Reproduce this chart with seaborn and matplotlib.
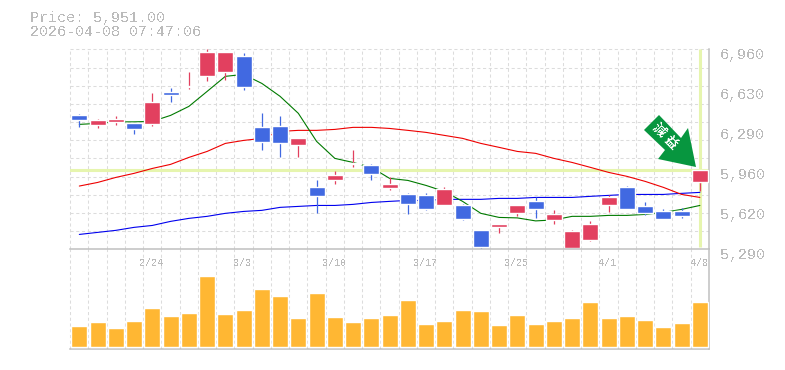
"""Candlestick chart with moving averages and a volume panel."""

import matplotlib
matplotlib.use("Agg")
import matplotlib.pyplot as plt
import numpy as np
import pandas as pd
import seaborn as sns
from matplotlib.patches import Polygon
from matplotlib.transforms import IdentityTransform, ScaledTranslation

W, H = 785, 370

dates = ["2/17", "2/18", "2/19", "2/20", "2/24", "2/25", "2/26", "2/27", "3/2", "3/3",
         "3/4", "3/5", "3/6", "3/9", "3/10", "3/11", "3/12", "3/13", "3/16", "3/17",
         "3/18", "3/19", "3/23", "3/24", "3/25", "3/26", "3/27", "3/30", "3/31", "4/1",
         "4/2", "4/3", "4/6", "4/7", "4/8"]
shown_dates = ["2/24", "3/3", "3/10", "3/17", "3/25", "4/1", "4/8"]

opens = [6409, 6325, 6350, 6342, 6334, 6601, 6643, 6735, 6768, 6902,
         6309, 6317, 6158, 5808, 5866, 6000, 5991, 5799, 5749, 5741,
         5657, 5657, 5449, 5474, 5591, 5691, 5532, 5298, 5365, 5657,
         5808, 5649, 5607, 5607, 5849]
closes = [6367, 6367, 6376, 6292, 6517, 6576, 6651, 6935, 6935, 6643,
          6183, 6175, 6217, 5733, 5908, 6008, 5916, 5833, 5666, 5624,
          5791, 5541, 5307, 5499, 5657, 5624, 5582, 5440, 5499, 5724,
          5624, 5591, 5541, 5566, 5951]
highs = [6422, 6376, 6401, 6342, 6593, 6634, 6768, 6960, 6935, 6927,
         6426, 6401, 6217, 5866, 5941, 6117, 6000, 5891, 5758, 5758,
         5808, 5666, 5449, 5499, 5657, 5724, 5616, 5449, 5524, 5741,
         5816, 5682, 5624, 5632, 5951]
lows = [6312, 6300, 6325, 6250, 6317, 6517, 6626, 6693, 6701, 6618,
        6117, 6058, 6058, 5591, 5833, 5975, 5866, 5783, 5582, 5616,
        5657, 5532, 5290, 5424, 5566, 5549, 5499, 5282, 5357, 5599,
        5624, 5574, 5541, 5549, 5774]

ma_short = [6334, 6342, 6355, 6355, 6359, 6409, 6484, 6609, 6735, 6751,
            6676, 6568, 6426, 6192, 6050, 6016, 5975, 5883, 5866, 5824,
            5774, 5691, 5591, 5557, 5553, 5528, 5536, 5566, 5566, 5574,
            5574, 5582, 5599, 5624, 5657]
ma_mid = [5819, 5849, 5891, 5925, 5966, 6000, 6058, 6108, 6175, 6200,
          6217, 6275, 6284, 6284, 6292, 6309, 6309, 6300, 6284, 6267,
          6242, 6217, 6175, 6142, 6108, 6092, 6050, 6016, 5975, 5933,
          5900, 5858, 5808, 5749, 5724]
ma_long = [5415, 5432, 5449, 5474, 5490, 5524, 5549, 5566, 5591, 5607,
           5616, 5641, 5649, 5657, 5657, 5666, 5682, 5691, 5699, 5699,
           5708, 5708, 5708, 5716, 5716, 5724, 5724, 5724, 5733, 5741,
           5749, 5749, 5749, 5758, 5766]

volumes = [21, 25, 19, 26, 39, 31, 34, 71, 33, 37, 58, 51, 29, 54, 30, 25, 29, 32,
           47, 23, 26, 37, 36, 22, 32, 23, 26, 29, 45, 29, 31, 27, 20, 24, 45]

price_ticks = [5290, 5624, 5958, 6292, 6626, 6960]
price_labels = ["5,290", "5,620", "5,960", "6,290", "6,630", "6,960"]
last_price = 5951

RED = "#E2405F"
BLUE = "#4169E1"
ORANGE = "#FFB733"
GRID = "#DCDCDC"
FRAME = "#C0C0C0"
TEXT = "#BBBBBB"
MARK = "#E6F5AE"
ARROW = "#07963F"
DASH = (0, (3, 2.5))

sns.set_theme(style="white")
plt.rcParams["font.family"] = ["Liberation Mono", "Noto Sans CJK JP", "DejaVu Sans"]
plt.rcParams["text.antialiased"] = False

df = pd.DataFrame({"date": dates, "open": opens, "close": closes, "high": highs, "low": lows,
                   "ma_short": ma_short, "ma_mid": ma_mid, "ma_long": ma_long, "volume": volumes})
df["pos"] = np.arange(len(df))

fig = plt.figure(figsize=(W / 100, H / 100), dpi=100, facecolor="white")
ax = fig.add_axes([70.2 / W, (H - 249.4) / H, 638.8 / W, 200 / H])
ax_vol = fig.add_axes([70.2 / W, (H - 349.4) / H, 638.8 / W, 100 / H])

# volume panel
sns.barplot(data=df, x="pos", y="volume", color=ORANGE, saturation=1, width=0.88,
            native_scale=True, ax=ax_vol, zorder=3)
ax_vol.set_ylim(-2, 98)
ax_vol.set_yticks([])

for a in (ax, ax_vol):
    a.set_xlim(-0.5, len(df) - 0.5)
    a.set_xlabel("")
    a.set_ylabel("")
    a.set_xticks([])
    a.set_xticks(df["pos"].to_numpy()[:-1] + 0.5, minor=True)
    a.grid(True, axis="x", which="minor", color=GRID, linestyle=DASH, linewidth=0.75)
    a.tick_params(which="both", length=0, labelbottom=False)
    a.set_axisbelow(True)
    for spine in a.spines.values():
        spine.set_visible(False)

# horizontal price grid, 11 even steps over the price range
ax.set_ylim(price_ticks[0], price_ticks[-1])
ax.set_yticks(np.linspace(price_ticks[0], price_ticks[-1], 12), minor=True)
ax.grid(True, axis="y", which="minor", color=GRID, linestyle=DASH, linewidth=0.75)
ax.axvline(-0.5, color=GRID, linestyle=DASH, linewidth=0.75, clip_on=False, zorder=1)
ax_vol.axvline(-0.5, color=GRID, linestyle=DASH, linewidth=0.75, clip_on=False, zorder=1)
ax.axhline(price_ticks[-1], color=GRID, linestyle=DASH, linewidth=0.75, clip_on=False, zorder=1)

# frame lines
for a, names in ((ax, ["right"]), (ax_vol, ["top", "bottom", "right"])):
    for name in names:
        a.spines[name].set_visible(True)
        a.spines[name].set_color(FRAME)
        a.spines[name].set_linewidth(1.1)

# current price marker
ax.axhline(last_price, color=MARK, linewidth=2.2, zorder=2)
ax.plot([34, 34], [5307, 6960], color=MARK, linewidth=2.2, solid_capstyle="butt", zorder=2)

# moving averages
for col, color in (("ma_long", "#0000EE"), ("ma_mid", "#EE0000"), ("ma_short", "#007A00")):
    sns.lineplot(data=df, x="pos", y=col, color=color, linewidth=0.8, ax=ax, zorder=3, legend=False)
ax.set_xlabel("")
ax.set_ylabel("")

# candles
colors = np.where(df["close"] >= df["open"], RED, BLUE)
ax.vlines(df["pos"], df["low"], df["high"], colors=colors, linewidth=0.9, zorder=4, clip_on=False)
ax.bar(df["pos"], (df["close"] - df["open"]).abs(), bottom=df[["open", "close"]].min(axis=1),
       width=0.88, color=colors, zorder=5)

# price labels on the right, sitting slightly under their level
ax.yaxis.tick_right()
ax.set_yticks(price_ticks)
ax.set_yticklabels(price_labels, fontsize=10.8, color=TEXT)
ax.tick_params(axis="y", which="both", length=0, pad=8)
shift = ScaledTranslation(0, -3.6 / 100, fig.dpi_scale_trans)
for label in ax.get_yticklabels():
    label.set_transform(label.get_transform() + shift)
ax.grid(False, axis="y", which="major")

# date labels inside the top of the volume panel
blend = ax_vol.get_xaxis_transform()
for d in shown_dates:
    ax_vol.text(dates.index(d) - 0.05, 0.86, d, transform=blend, ha="center", va="center",
                fontsize=7.2, color=TEXT, zorder=6)

# signal arrow, placed in figure pixels
arrow_px = [(659, 115), (644, 130), (665, 150), (658, 159), (696, 167), (688, 128), (681, 138)]
fig.add_artist(Polygon([(x, H - y) for x, y in arrow_px], closed=True, facecolor=ARROW,
                       edgecolor="none", transform=IdentityTransform(), zorder=10))
fig.text(659 / W, 1 - 130 / H, "減", rotation=-45, ha="center", va="center", fontsize=9.5,
         color="white", fontweight="bold", family="Noto Sans CJK JP", zorder=11)
fig.text(671 / W, 1 - 142 / H, "益", rotation=-45, ha="center", va="center", fontsize=9.5,
         color="white", fontweight="bold", family="Noto Sans CJK JP", zorder=11)

fig.text(30 / W, 1 - 18 / H, "Price: 5,951.00", fontsize=10.8, color=TEXT, va="center")
fig.text(30 / W, 1 - 32 / H, "2026-04-08 07:47:06", fontsize=10.8, color=TEXT, va="center")

fig.savefig("out.png", dpi=100, facecolor="white")
